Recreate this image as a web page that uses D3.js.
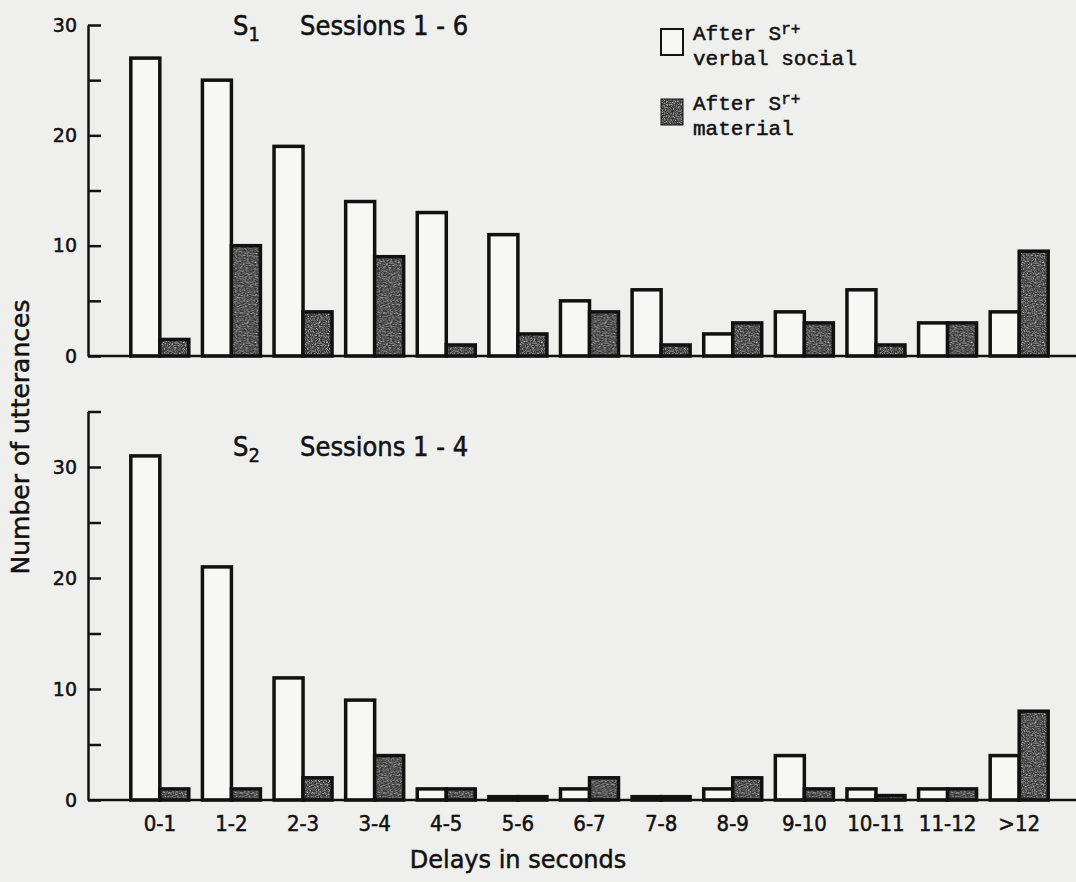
<!DOCTYPE html>
<html>
<head>
<meta charset="utf-8">
<script src="https://cdn.jsdelivr.net/npm/d3@7"></script>
<style>
  body { margin: 0; background: #efefed; }
  svg { display: block; }
  .cond { font-family: "DejaVu Sans Condensed", "Liberation Sans Narrow", "DejaVu Sans", sans-serif; }
  .wide { font-family: "DejaVu Sans", sans-serif; }
  .mono { font-family: "Liberation Mono", "DejaVu Sans Mono", monospace; }
  text { stroke: #111; stroke-width: 0.5px; }
</style>
</head>
<body>
<svg></svg>
<script>
var svgWidth = 1076, svgHeight = 882;

// data
var delays = ["0-1", "1-2", "2-3", "3-4", "4-5", "5-6", "6-7", "7-8", "8-9", "9-10", "10-11", "11-12", ">12"];
var s1Verbal   = [27, 25, 19, 14, 13, 11, 5, 6, 2, 4, 6, 3, 4];
var s1Material = [1.5, 10, 4, 9, 1, 2, 4, 1, 3, 3, 1, 3, 9.5];
var s2Verbal   = [31, 21, 11, 9, 1, 0.3, 1, 0.3, 1, 4, 1, 1, 4];
var s2Material = [1, 1, 2, 4, 1, 0.3, 2, 0.3, 2, 1, 0.4, 1, 8];
var seriesKeys = ["verbal", "material"];

var svg = d3.select("svg").attr("width", svgWidth).attr("height", svgHeight);

// speckled fill for the dark bars
var defs = svg.append("defs");
var filt = defs.append("filter").attr("id", "grain").attr("x", 0).attr("y", 0).attr("width", "100%").attr("height", "100%");
filt.append("feTurbulence").attr("type", "fractalNoise").attr("baseFrequency", 0.9).attr("numOctaves", 2).attr("seed", 4);
filt.append("feColorMatrix").attr("type", "matrix")
  .attr("values", "0 0 0 0 0.72  0 0 0 0 0.72  0 0 0 0 0.72  1.9 0 0 0 -0.75");
var pat = defs.append("pattern").attr("id", "speck").attr("patternUnits", "userSpaceOnUse")
  .attr("width", 80).attr("height", 80);
pat.append("rect").attr("width", 80).attr("height", 80).attr("fill", "#333");
pat.append("rect").attr("width", 80).attr("height", 80).attr("fill", "#fff").attr("filter", "url(#grain)");

var axisX = 88;

var x0 = d3.scaleBand().domain(delays).range([124, 1055]).paddingInner(0.19).paddingOuter(0.095);
var x1 = d3.scaleBand().domain(seriesKeys).range([0, x0.bandwidth()]);

var panels = [
  {verbal: s1Verbal, material: s1Material, max: 30, y: d3.scaleLinear().domain([0, 30]).range([356, 25]),
   sub: "1", sessions: "Sessions 1 - 6", titleY: 35},
  {verbal: s2Verbal, material: s2Material, max: 35, y: d3.scaleLinear().domain([0, 35]).range([800, 411.5]),
   sub: "2", sessions: "Sessions 1 - 4", titleY: 456}
];

panels.forEach(function(p) {
  var g = svg.append("g");
  var rows = delays.map(function(d, i) { return {delay: d, verbal: p.verbal[i], material: p.material[i]}; });

  var groups = g.selectAll(".grp").data(rows).enter().append("g")
    .attr("transform", function(d) { return "translate(" + x0(d.delay) + ",0)"; });

  groups.selectAll("rect")
    .data(function(d) { return seriesKeys.map(function(k) { return {key: k, value: d[k]}; }); })
    .enter().append("rect")
    .attr("x", function(d) { return x1(d.key); })
    .attr("width", x1.bandwidth())
    .attr("y", function(d) { return p.y(d.value); })
    .attr("height", function(d) { return p.y(0) - p.y(d.value); })
    .attr("fill", function(d) { return d.key == "verbal" ? "#f7f7f5" : "url(#speck)"; })
    .attr("stroke", "#111")
    .attr("stroke-width", 3.5);

  // baseline
  g.append("line")
    .attr("x1", axisX).attr("x2", svgWidth)
    .attr("y1", p.y(0)).attr("y2", p.y(0))
    .attr("stroke", "#111").attr("stroke-width", 2.5);

  // y axis, ticks pointing inward
  var yAxis = d3.axisLeft(p.y)
    .tickValues(d3.range(0, p.max + 1, 5))
    .tickFormat(function(v) { return v % 10 == 0 ? v : ""; })
    .tickSizeInner(-13).tickSizeOuter(0).tickPadding(11);
  var ya = g.append("g").attr("transform", "translate(" + axisX + ",0)").call(yAxis);
  ya.select(".domain").attr("stroke", "#111").attr("stroke-width", 2.5);
  ya.selectAll(".tick line").attr("stroke", "#111").attr("stroke-width", 2.5);
  ya.selectAll(".tick text").attr("fill", "#111")
    .style("font-family", "'DejaVu Sans', sans-serif").style("font-size", "19px");

  // panel title
  var t = g.append("text").attr("class", "cond").attr("y", p.titleY).attr("fill", "#111").style("font-size", "27px");
  t.append("tspan").attr("x", 233).text("S");
  t.append("tspan").attr("dy", 6).style("font-size", "20px").text(p.sub);
  t.append("tspan").attr("x", 300).attr("y", p.titleY).text(p.sessions);
});

// x tick labels under the lower panel
var xAxis = d3.axisBottom(x0).tickSize(0).tickPadding(15);
var xa = svg.append("g").attr("transform", "translate(0," + panels[1].y(0) + ")").call(xAxis);
xa.select(".domain").remove();
xa.selectAll(".tick text").attr("class", "cond").attr("fill", "#111").style("font-size", "22px");

// axis titles
svg.append("text").attr("class", "wide")
  .attr("x", 518).attr("y", 868).attr("text-anchor", "middle")
  .attr("fill", "#111").style("font-size", "24px").text("Delays in seconds");

svg.append("text").attr("class", "wide")
  .attr("transform", "translate(29,437) rotate(-90)").attr("text-anchor", "middle")
  .attr("fill", "#111").style("font-size", "25px").text("Number of utterances");

// legend
var legendItems = [
  {fill: "#f7f7f5", line2: "verbal social", y: 29},
  {fill: "url(#speck)", line2: "material", y: 99}
];
var lg = svg.append("g");
legendItems.forEach(function(it) {
  lg.append("rect").attr("x", 661).attr("y", it.y).attr("width", 22).attr("height", 26)
    .attr("fill", it.fill).attr("stroke", "#111").attr("stroke-width", it.fill == "#f7f7f5" ? 2 : 1);
  var t1 = lg.append("text").attr("class", "mono").attr("x", 693).attr("y", it.y + 11)
    .attr("fill", "#111").style("font-size", "21px");
  t1.append("tspan").text("After S");
  t1.append("tspan").attr("dy", -6).style("font-size", "16px").text("r+");
  lg.append("text").attr("class", "mono").attr("x", 693).attr("y", it.y + 36)
    .attr("fill", "#111").style("font-size", "21px").text(it.line2);
});
</script>
</body>
</html>
